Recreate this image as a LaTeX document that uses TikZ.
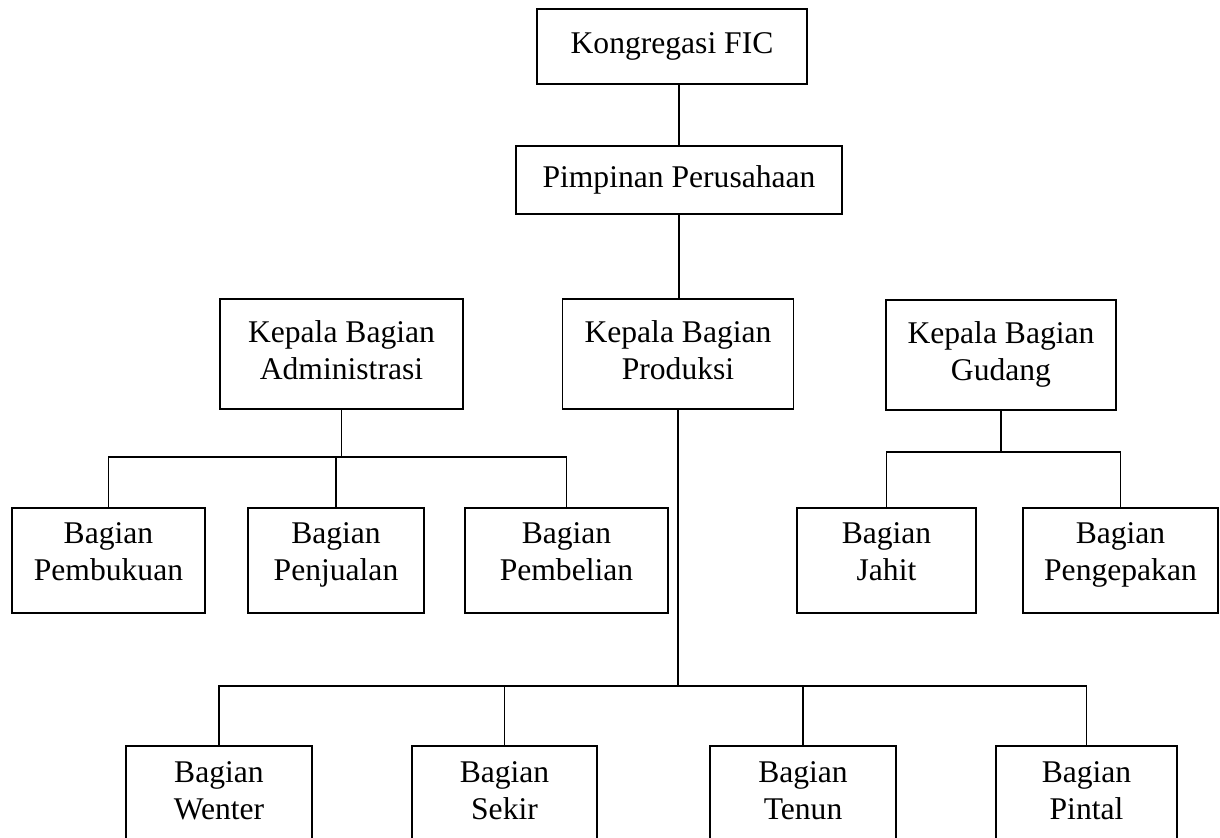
\documentclass[tikz,border=0pt]{standalone}
\usepackage{fontspec}
\setmainfont{Liberation Serif}

\begin{document}
\begin{tikzpicture}[%
    x=0.5pt,
    y=-0.5pt,
    base/.style={draw, line width=0.9pt, align=center, inner sep=0pt, font={\fontsize{15.8}{18.5}\selectfont}},
    single/.style={base, minimum height=#1},
    kepala/.style={base, text height=40.5pt, text depth=14.5pt},
    bagian/.style={base, text height=36.5pt, text depth=16pt},
    link/.style={line width=0.9pt}
    ]

    \clip (0,0) rectangle (1220,838);

    \node at (672,46.5) [single=37.5pt, minimum width=135pt] (kong) {Kongregasi FIC};
    \node at (679,180) [single=34pt, minimum width=163pt] (pimp) {Pimpinan Perusahaan};

    \node at (341.5,354) [kepala, minimum width=121.5pt] (kadm) {Kepala Bagian\\Administrasi};
    \node at (678,354) [kepala, minimum width=115.5pt] (kprod) {Kepala Bagian\\Produksi};
    \node at (1001,355) [kepala, minimum width=115pt] (kgud) {Kepala Bagian\\Gudang};

    \node at (108.5,560.5) [bagian, minimum width=96.5pt] (bbuku) {Bagian\\Pembukuan};
    \node at (336,560.5) [bagian, minimum width=88pt] (bjual) {Bagian\\Penjualan};
    \node at (566.5,560.5) [bagian, minimum width=101.5pt] (bbeli) {Bagian\\Pembelian};
    \node at (886.5,560.5) [bagian, minimum width=89.5pt] (bjahit) {Bagian\\Jahit};
    \node at (1120.5,560.5) [bagian, minimum width=97.5pt] (bpack) {Bagian\\Pengepakan};

    \node at (219,798.5) [bagian, minimum width=93pt] (bwent) {Bagian\\Wenter};
    \node at (504.5,798.5) [bagian, minimum width=92.5pt] (bsekir) {Bagian\\Sekir};
    \node at (803,798.5) [bagian, minimum width=93pt] (btenun) {Bagian\\Tenun};
    \node at (1086.5,798.5) [bagian, minimum width=90.5pt] (bpintal) {Bagian\\Pintal};

    \coordinate (abus) at (341.5,457);
    \coordinate (gbus) at (1001,452);
    \coordinate (pbus) at (678,686);

    \draw[link] (pimp.north) -- (pimp.north |- kong.south);
    \draw[link] (pimp.south) -- (pimp.south |- kprod.north);

    \draw[link] (kadm.south) -- (kadm.south |- abus);
    \draw[link] (bbuku.north) |- (bbeli.north |- abus) -- (bbeli.north);
    \draw[link] (bjual.north) -- (bjual.north |- abus);

    \draw[link] (kgud.south) -- (kgud.south |- gbus);
    \draw[link] (bjahit.north) |- (bpack.north |- gbus) -- (bpack.north);

    \draw[link] (kprod.south) -- (kprod.south |- pbus);
    \draw[link] (bwent.north) |- (bpintal.north |- pbus) -- (bpintal.north);
    \draw[link] (bsekir.north) -- (bsekir.north |- pbus);
    \draw[link] (btenun.north) -- (btenun.north |- pbus);

\end{tikzpicture}
\end{document}
